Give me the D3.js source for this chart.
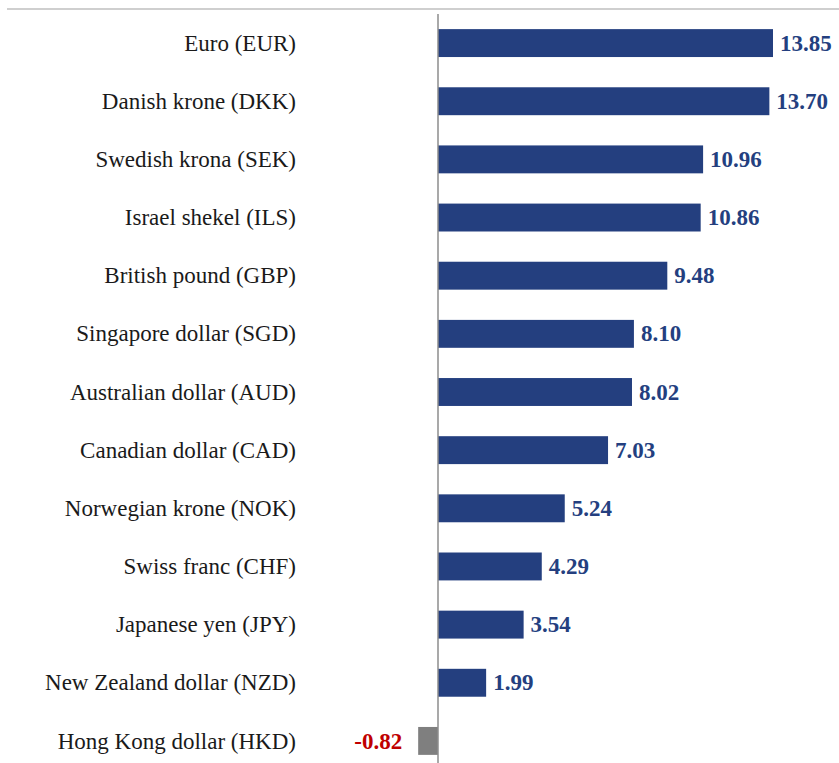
<!DOCTYPE html>
<html lang="en">
<head>
<meta charset="utf-8">
<script src="https://d3js.org/d3.v7.min.js"></script>
<style>
  body, html { margin: 0; padding: 0; background: #fff; }
  svg { display: block; }
  .cat { font-family: 'Liberation Serif', 'DejaVu Serif', serif; font-size: 23px; fill: #1a1a1a; }
  .val { font-family: 'Liberation Serif', 'DejaVu Serif', serif; font-size: 23px; font-weight: bold; }
</style>
</head>
<body>
<div id="chart"></div>
<script>
const currencies = [
  "Euro (EUR)", "Danish krone (DKK)", "Swedish krona (SEK)", "Israel shekel (ILS)",
  "British pound (GBP)", "Singapore dollar (SGD)", "Australian dollar (AUD)",
  "Canadian dollar (CAD)", "Norwegian krone (NOK)", "Swiss franc (CHF)",
  "Japanese yen (JPY)", "New Zealand dollar (NZD)", "Hong Kong dollar (HKD)"
];
const changes = [13.85, 13.70, 10.96, 10.86, 9.48, 8.10, 8.02, 7.03, 5.24, 4.29, 3.54, 1.99, -0.82];

const width = 839;
const height = 763;

const data = currencies.map((c, i) => ({ name: c, value: changes[i] }));

const svg = d3.select("#chart").append("svg")
    .attr("width", width)
    .attr("height", height);

// zero sits at x=438, 13.85 reaches x=773
const x = d3.scaleLinear()
    .domain([0, 13.85])
    .range([438, 773]);

const y = d3.scaleBand()
    .domain(currencies)
    .range([14, 770])
    .paddingInner(0.52)
    .paddingOuter(0.26);

// top rule
svg.append("line")
    .attr("x1", 7).attr("x2", width)
    .attr("y1", 9).attr("y2", 9)
    .attr("stroke", "#bfbfbf")
    .attr("stroke-width", 1.5);

svg.selectAll("rect.bar")
  .data(data)
  .join("rect")
    .attr("class", "bar")
    .attr("x", d => x(Math.min(0, d.value)))
    .attr("width", d => Math.abs(x(d.value) - x(0)))
    .attr("y", d => y(d.name))
    .attr("height", y.bandwidth())
    .attr("fill", d => d.value < 0 ? "#7f7f7f" : "#243f7f");

// zero axis
svg.append("line")
    .attr("x1", x(0)).attr("x2", x(0))
    .attr("y1", 14).attr("y2", height)
    .attr("stroke", "#8c8c8c")
    .attr("stroke-width", 1.5);

svg.selectAll("text.cat")
  .data(data)
  .join("text")
    .attr("class", "cat")
    .attr("x", 296)
    .attr("y", d => y(d.name) + y.bandwidth() / 2)
    .attr("dy", "0.33em")
    .attr("text-anchor", "end")
    .text(d => d.name);

svg.selectAll("text.val")
  .data(data)
  .join("text")
    .attr("class", "val")
    .attr("x", d => d.value < 0 ? x(d.value) - 16 : x(d.value) + 7)
    .attr("y", d => y(d.name) + y.bandwidth() / 2)
    .attr("dy", "0.33em")
    .attr("text-anchor", d => d.value < 0 ? "end" : "start")
    .attr("fill", d => d.value < 0 ? "#c00000" : "#243f7f")
    .text(d => d.value.toFixed(2));
</script>
</body>
</html>
